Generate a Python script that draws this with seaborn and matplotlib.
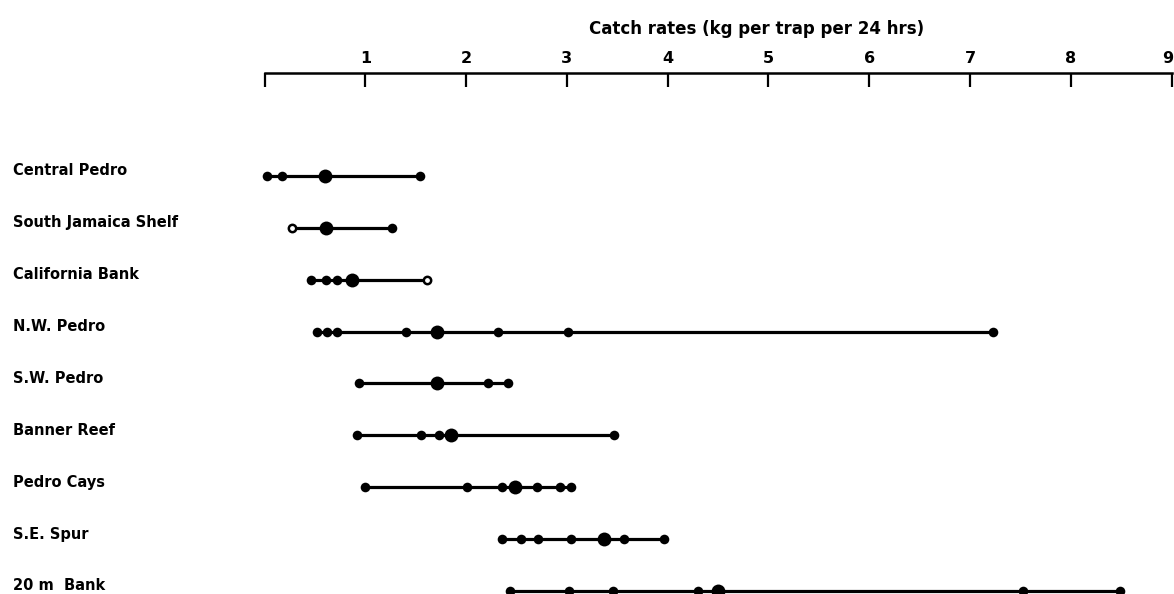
import matplotlib
matplotlib.use("Agg")
import matplotlib.pyplot as plt
import matplotlib.transforms as mtransforms
import seaborn as sns
import pandas as pd

# Fishing grounds, top to bottom
sites = [
    "Central Pedro",
    "South Jamaica Shelf",
    "California Bank",
    "N.W. Pedro",
    "S.W. Pedro",
    "Banner Reef",
    "Pedro Cays",
    "S.E. Spur",
    "20 m  Bank",
]

# Individual catch rates (kg per trap per 24 hrs) for each ground
central_pedro = [0.02, 0.17, 0.60, 1.54]
south_jamaica_shelf = [0.27, 0.61, 1.27]
california_bank = [0.46, 0.61, 0.72, 0.87, 1.61]
nw_pedro = [0.52, 0.62, 0.72, 1.40, 1.71, 2.32, 3.01, 7.23]
sw_pedro = [0.94, 1.71, 2.22, 2.42]
banner_reef = [0.92, 1.55, 1.73, 1.85, 3.47]
pedro_cays = [1.00, 2.01, 2.36, 2.49, 2.70, 2.93, 3.04]
se_spur = [2.36, 2.55, 2.71, 3.04, 3.37, 3.57, 3.96]
bank_20m = [2.44, 3.02, 3.46, 4.30, 4.50, 7.53, 8.49]

rates = [central_pedro, south_jamaica_shelf, california_bank, nw_pedro,
         sw_pedro, banner_reef, pedro_cays, se_spur, bank_20m]

# Central value of each ground (drawn as the larger dot)
central_values = [0.60, 0.61, 0.87, 1.71, 1.71, 1.85, 2.49, 3.37, 4.50]

# Values recorded as open circles (site, rate)
open_points = [("South Jamaica Shelf", 0.27), ("California Bank", 1.61)]

tick_values = list(range(0, 10))
tick_labels = [""] + [str(v) for v in range(1, 10)]

# Long table of all observations
rows = []
for i, (site, vals) in enumerate(zip(sites, rates)):
    for v in vals:
        if (site, v) in open_points:
            kind = "open"
        elif v == central_values[i]:
            kind = "central"
        else:
            kind = "point"
        rows.append({"site": site, "row": i, "rate": v, "kind": kind})
df = pd.DataFrame(rows)

sns.set_theme(style="white")
plt.rcParams["font.family"] = ["DejaVu Sans"]
plt.rcParams["font.weight"] = "bold"

fig = plt.figure(figsize=(11.74, 5.94), dpi=100)
ax = fig.add_axes([264.5 / 1174, 0.0, 907 / 1174, 521.3 / 594])

# Range line for every ground
sns.lineplot(data=df, x="rate", y="row", units="site", estimator=None,
             sort=True, color="black", linewidth=2.3, ax=ax, legend=False)

# Observations
sns.scatterplot(data=df[df.kind == "point"], x="rate", y="row", color="black",
                s=48, linewidth=0, ax=ax, legend=False, zorder=3, clip_on=False)
sns.scatterplot(data=df[df.kind == "central"], x="rate", y="row", color="black",
                s=100, linewidth=0, ax=ax, legend=False, zorder=4, clip_on=False)
sns.scatterplot(data=df[df.kind == "open"], x="rate", y="row", color="white",
                edgecolor="black", s=28, linewidth=1.8, ax=ax, legend=False,
                zorder=5, clip_on=False)

ax.set_xlim(0, 9)
ax.set_ylim(8.06, -1.99)

# Scale along the top
ax.xaxis.tick_top()
ax.xaxis.set_label_position("top")
ax.set_xticks(tick_values)
ax.set_xticklabels(tick_labels, fontsize=11.5, fontweight="bold")
ax.tick_params(axis="x", direction="in", length=10, width=1.6, pad=5,
               color="black", labelcolor="black")
# keep the last scale number inside the frame
nudge = mtransforms.ScaledTranslation(-0.04, 0, fig.dpi_scale_trans)
last = ax.get_xticklabels()[-1]
last.set_transform(last.get_transform() + nudge)

ax.set_xlabel("Catch rates (kg per trap per 24 hrs)", fontsize=12,
              fontweight="bold", labelpad=12, color="black")
ax.xaxis.label.set_x((757 - 264.5) / 907)

# Ground names on the left, set slightly above their range lines
ax.set_yticks(range(len(sites)))
ax.set_yticklabels(sites, fontsize=10.5, fontweight="bold", ha="left",
                   color="black")
ax.tick_params(axis="y", length=0, pad=181)
ax.set_ylabel("")
lift = mtransforms.ScaledTranslation(0, 0.065, fig.dpi_scale_trans)
for lab in ax.get_yticklabels():
    lab.set_transform(lab.get_transform() + lift)

for side in ["left", "right", "bottom"]:
    ax.spines[side].set_visible(False)
ax.spines["top"].set_linewidth(1.8)
ax.spines["top"].set_color("black")

fig.savefig("out.png", dpi=100, facecolor="white")
